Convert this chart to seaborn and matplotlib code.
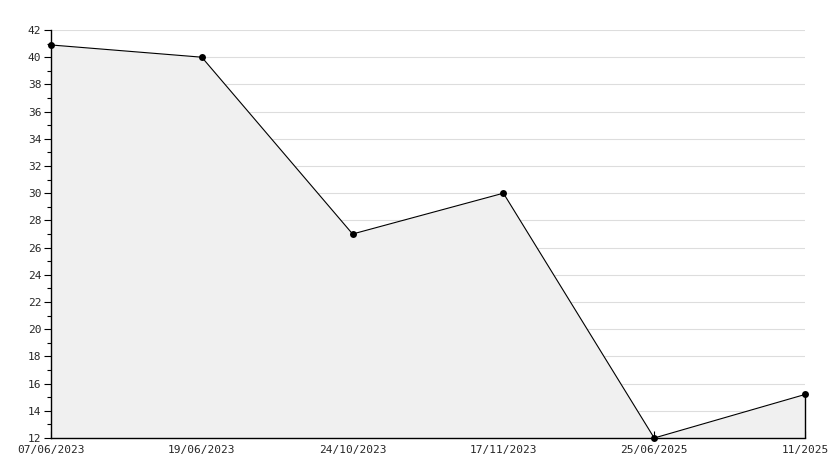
import matplotlib
matplotlib.use("Agg")
import matplotlib.pyplot as plt
import seaborn as sns
import pandas as pd
import numpy as np
from matplotlib.ticker import MultipleLocator

dates = ["07/06/2023", "19/06/2023", "24/10/2023", "17/11/2023", "25/06/2025", "11/2025"]
values = [40.9, 40.0, 27.0, 30.0, 12.0, 15.2]

df = pd.DataFrame({"idx": np.arange(len(dates)), "value": values})

sns.set_style("white")
plt.rcParams['font.family'] = ['DejaVu Sans Mono']

fig = plt.figure(figsize=(8.34, 4.68), dpi=100)
ax = fig.add_axes([51/834, 30/468, (805-51)/834, (438-30)/468])

ax.fill_between(df["idx"], df["value"], 12, color="#f0f0f0", zorder=1, linewidth=0)
ax.vlines(df["idx"].iloc[-1], 12, df["value"].iloc[-1], color="black", linewidth=1.0,
          zorder=3, clip_on=False)
sns.lineplot(data=df, x="idx", y="value", ax=ax, color="black", linewidth=0.8,
             marker="o", markersize=5, markeredgewidth=0, zorder=6, clip_on=False)

ax.set_xlim(0, len(dates) - 1)
ax.set_ylim(12, 42)
ax.yaxis.set_major_locator(MultipleLocator(2))
ax.yaxis.set_minor_locator(MultipleLocator(1))
ax.set_xticks(df["idx"])
ax.set_xticklabels(dates)
ax.set_xlabel("")
ax.set_ylabel("")

for y in range(14, 43, 2):
    ax.axhline(y, color="#dddddd", linewidth=0.8, zorder=0.5)

for s in ["top", "right"]:
    ax.spines[s].set_visible(False)
for s in ["left", "bottom"]:
    ax.spines[s].set_color("black")
    ax.spines[s].set_linewidth(1.0)
    ax.spines[s].set_zorder(5)

ax.tick_params(axis="y", which="major", direction="out", length=5, width=0.8, color="black",
               labelsize=8, pad=2, left=True)
ax.tick_params(axis="y", which="minor", direction="out", length=3, width=0.8, color="black", left=True)
ax.tick_params(axis="x", which="major", direction="in", length=5, width=0.8, color="black",
               labelsize=8, pad=5, bottom=True)
for lab in ax.get_yticklabels():
    lab.set_verticalalignment("center_baseline")

fig.savefig("out.png", dpi=100)
